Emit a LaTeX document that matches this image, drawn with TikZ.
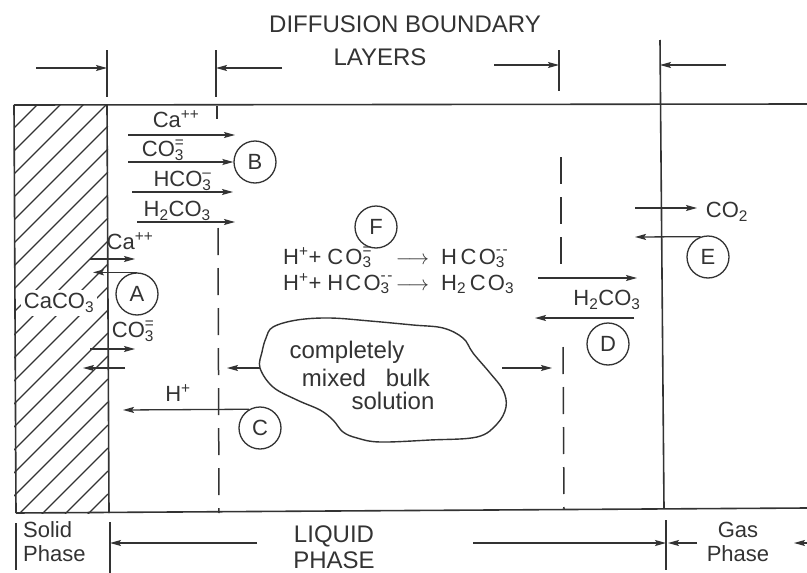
\documentclass[tikz,border=0pt]{standalone}
\usepackage{fontspec}
\setmainfont{Liberation Sans}
\newfontfamily\spacedfont[LetterSpace=10]{Liberation Sans}
\usetikzlibrary{arrows.meta}

\definecolor{ink}{gray}{0.2}

% chemical formula helpers
\newcommand{\chsb}[1]{\textsubscript{#1}}
\newcommand{\chsp}[1]{\textsuperscript{#1}}
\newcommand{\chion}[2]{\rlap{\raisebox{2pt}{\textsuperscript{#2}}}\textsubscript{#1}}

\begin{document}
\begin{tikzpicture}[
    x=1pt, y=-1pt,
    every node/.style={font=\fontsize{22}{24}\selectfont, text=ink, inner sep=1pt},
    heading/.style={font=\fontsize{24}{26}\selectfont},
    zone/.style={circle, draw=ink, line width=1.3pt, minimum size=42pt, inner sep=0pt},
    bndline/.style={draw=ink, line width=1.6pt},
    layerline/.style={draw=ink, line width=1.5pt, dash pattern=on 27pt off 13pt},
    hatchline/.style={draw=ink, line width=1.1pt},
    dimtick/.style={draw=ink, line width=1.3pt},
    arr/.style={-{Stealth[length=11pt,width=6pt,inset=2pt]}, draw=ink, line width=1.3pt}
]
\fill[white] (0,0) rectangle (807,573);
\useasboundingbox (0,0) rectangle (807,573);

% Heading and boundary layer dimensions
\node[heading] (title1) at (405,24) {DIFFUSION BOUNDARY};
\node[heading] (title2) at (380,57) {LAYERS};
\coordinate (dimS) at (107,68);
\coordinate (dimL) at (216,68);
\coordinate (dimR) at (559,65);
\coordinate (dimG) at (660,65);
\draw[dimtick] (107,50) -- (107,97);
\draw[dimtick] (216,50) -- (216,97);
\draw[dimtick] (559,50) -- (559,91);
\draw[arr] ([xshift=-71pt]dimS) -- (dimS);
\draw[arr] ([xshift=66pt]dimL) -- (dimL);
\draw[arr] ([xshift=-65pt]dimR) -- (dimR);
\draw[arr] ([xshift=66pt]dimG) -- (dimG);

% Solid phase (hatched)
\begin{scope}
  \clip (14,105) rectangle (108,513);
  \foreach \k in {0,...,22}
    \draw[hatchline] (14,105+23*\k) -- ++(94,-94);
\end{scope}
\node[fill=white, inner sep=3pt] (caco) at (59,303) {CaCO\chsb{3}};

% Phase boundaries
\draw[bndline] (14,105) -- (807,104);
\draw[bndline] (14,105) -- (16,513);
\draw[bndline] (16,513) -- (807,508);
\draw[bndline] (107,105) -- (109,513);
\draw[bndline] (660,40) -- (664,508);
\draw[layerline] (217,106) -- (217,119);
\draw[layerline] (218,228) -- (219,513);
\draw[layerline] (561,157) -- (561,266);
\draw[layerline] (563,347) -- (564,509);

% A: dissolution at the solid surface
\node[zone] (A) at (137,294) {A};
\node (caA) at (130,241) {Ca\chsp{++}};
\node (coA) at (133,331) {CO\chion{3}{=}};
\coordinate (aCa) at (135,259);
\coordinate (aCO) at (135,349);
\coordinate (aCOb) at (83,368);
\draw[arr] ([xshift=-45pt]aCa) -- (aCa);
\draw[arr] (A.north) -- ([xshift=-44pt]A.north);
\draw[arr] ([xshift=-45pt]aCO) -- (aCO);
\draw[arr] ([xshift=42pt]aCOb) -- (aCOb);

% B: transport through the liquid film
\node[zone] (B) at (255,162) {B};
\coordinate (bCa) at (235,135);
\coordinate (bHC) at (233,192);
\coordinate (bHH) at (235,222);
\draw[arr] ([xshift=-107pt]bCa) -- node[above=6pt, pos=.45] {Ca\chsp{++}} (bCa);
\draw[arr] ([xshift=-105pt]B.west) -- node[above, pos=.33] {CO\chion{3}{=}} (B.west);
\draw[arr] ([xshift=-101pt]bHC) -- node[above, pos=.5] {HCO\chion{3}{--}} (bHC);
\draw[arr] ([xshift=-98pt]bHH) -- node[above, pos=.41] {H\chsb{2}CO\chsb{3}} (bHH);

% C: hydrogen ions to the surface
\node[zone] (C) at (260,428) {C};
\node (hC) at (178,393) {H\chsp{+}};
\coordinate (cH) at (123,410);
\draw[arr] (C.120) -- (cH);

% Bulk solution
\draw[ink, line width=1.4pt] plot[smooth cycle, tension=0.6] coordinates {
  (260,368) (262,352) (266,338) (273,327) (297,320) (330,318) (370,321)
  (413,325) (443,328) (463,338) (473,353) (490,373) (503,390) (506,407)
  (497,424) (477,437) (430,440) (380,442) (357,438) (343,432) (333,420)
  (320,410) (297,400) (273,387)};
\node[heading] (bk1) at (347,352) {completely};
\node[heading] (bk2) at (366,378) {mixed\hspace{20pt}bulk};
\node[heading] (bk3) at (393,401) {solution};
\coordinate (blobL) at (260,368);
\coordinate (blobLx) at (227,368);
\coordinate (blobR) at (502,368);
\coordinate (blobRx) at (552,368);
\draw[arr] (blobL) -- (blobLx);
\draw[arr] (blobR) -- (blobRx);

% F: reactions in the bulk
\node[zone] (F) at (376,227) {F};
\node[anchor=west, font=\fontsize{22}{26}\spacedfont] (eqs) at (282,272) {%
  \begin{tabular}{@{}l@{\hspace{6pt}}c@{\hspace{12pt}}l@{}}
    H\chsp{+}+\hspace{6pt}CO\chion{3}{=} & $\longrightarrow$ & H\,CO\chion{3}{--}\\
    H\chsp{+}+\hspace{6pt}HCO\chion{3}{--} & $\longrightarrow$ & H\chsb{2}\,CO\chsb{3}
  \end{tabular}};

% D: carbonic acid exchange
\node[zone] (D) at (608,344) {D};
\node (dH) at (607,300) {H\chsb{2}CO\chsb{3}};
\coordinate (dA) at (538,278);
\coordinate (dB) at (637,278);
\coordinate (dC) at (634,318);
\coordinate (dD) at (535,318);
\draw[arr] (dA) -- (dB);
\draw[arr] (dC) -- (dD);

% E: gas exchange
\node[zone] (E) at (708,257) {E};
\node (co2) at (727,212) {CO\chsb{2}};
\coordinate (eA) at (635,208);
\coordinate (eB) at (697,208);
\coordinate (eC) at (635,237);
\draw[arr] (eA) -- (eB);
\draw[arr] (E.110) -- (eC);

% Phase labels
\draw[dimtick] (16,523) -- (16,570);
\draw[dimtick] (110,522) -- (110,573);
\draw[dimtick] (666,520) -- (666,570);
\node[anchor=west] (solid) at (22,545) {\begin{tabular}{@{}l@{}}Solid\\Phase\end{tabular}};
\node[heading] (liquid) at (334,550) {\begin{tabular}{@{}c@{}}LIQUID\\PHASE\end{tabular}};
\node (gas) at (738,545) {\begin{tabular}{@{}c@{}}Gas\\Phase\end{tabular}};
\coordinate (phS) at (110,543);
\coordinate (phG) at (666,543);
\coordinate (phE) at (794,543);
\draw[arr] ([xshift=147pt]phS) -- (phS);
\draw[arr] ([xshift=-193pt]phG) -- (phG);
\draw[arr] ([xshift=31pt]phG) -- ([xshift=2pt]phG);
\draw[arr] ([xshift=14pt]phE) -- (phE);

\end{tikzpicture}
\end{document}
